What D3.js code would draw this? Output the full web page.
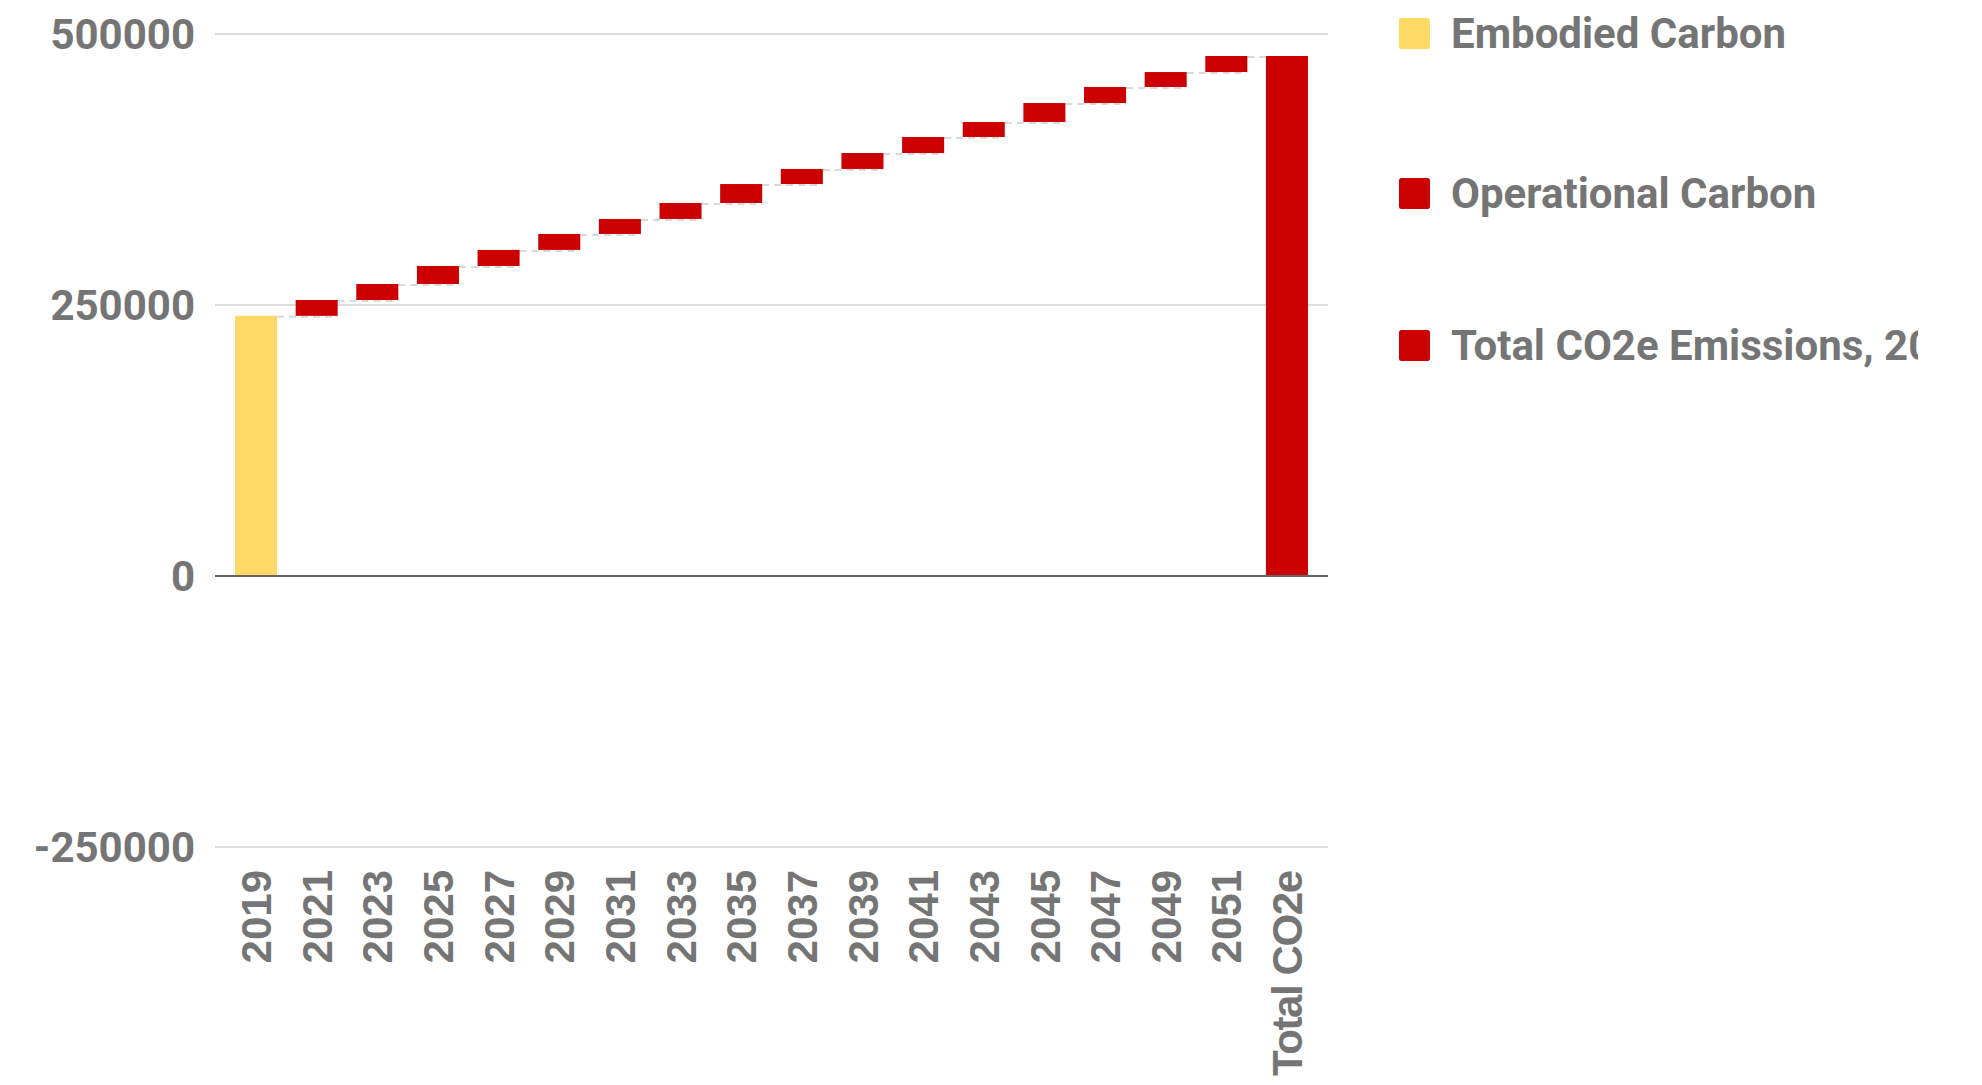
<!DOCTYPE html>
<html>
<head>
<meta charset="utf-8">
<script src="https://cdn.jsdelivr.net/npm/d3@7"></script>
<style>
  html, body { margin: 0; padding: 0; background: #ffffff; }
  svg { display: block; }
</style>
</head>
<body>
<svg id="chart" width="1982" height="1085"></svg>
<script>
// Waterfall of lifetime CO2e: embodied carbon in 2019, yearly operational increments, and the total.
const categories = ["2019", "2021", "2023", "2025", "2027", "2029", "2031", "2033", "2035",
  "2037", "2039", "2041", "2043", "2045", "2047", "2049", "2051", "Total CO2e"];
const embodiedCarbon = 240000;
const operationalCarbon = [14600, 14800, 16600, 14800, 14700, 13900, 14700, 17500,
  13900, 14700, 14800, 13800, 17500, 14800, 13800, 14800];
const yTicks = [-250000, 0, 250000, 500000];
const legendLabels = ["Embodied Carbon", "Operational Carbon", "Total CO2e Emissions, 2019-2051"];

const YELLOW = "#ffd966";
const RED = "#cc0000";
const TEXT = "#757575";

// Build waterfall segments (start/end of each bar)
const segments = [];
let running = embodiedCarbon;
segments.push({ cat: categories[0], y0: 0, y1: embodiedCarbon, color: YELLOW });
operationalCarbon.forEach((v, i) => {
  segments.push({ cat: categories[i + 1], y0: running, y1: running + v, color: RED });
  running += v;
});
segments.push({ cat: categories[categories.length - 1], y0: 0, y1: running, color: RED });

const svg = d3.select("#chart");
const plot = { left: 215, right: 1328, top: 34, bottom: 847 };

const x = d3.scaleBand()
  .domain(categories)
  .range([plot.left, plot.right])
  .paddingInner(0.307)
  .paddingOuter(0.33);

const y = d3.scaleLinear()
  .domain([yTicks[0], yTicks[yTicks.length - 1]])
  .range([plot.bottom, plot.top]);

// Gridlines
svg.append("g")
  .selectAll("line")
  .data(yTicks.filter(t => t !== 0))
  .join("line")
  .attr("x1", plot.left).attr("x2", plot.right)
  .attr("y1", d => y(d)).attr("y2", d => y(d))
  .attr("stroke", "#d0d0d0")
  .attr("stroke-width", 1.5);

// Y axis labels (plain hyphen for negatives)
const yAxis = d3.axisLeft(y).tickValues(yTicks).tickSize(0).tickPadding(20)
  .tickFormat(d => String(d));
const yG = svg.append("g").attr("transform", `translate(${plot.left},0)`).call(yAxis);
yG.select(".domain").remove();
yG.selectAll("text")
  .attr("fill", TEXT)
  .attr("font-family", "Roboto, sans-serif")
  .attr("font-weight", 700)
  .attr("font-size", 42)
  .attr("dy", "0.355em");

// Connector lines between consecutive bars
const connectors = segments.slice(0, -1).map((s, i) => ({
  x1: x(s.cat) + x.bandwidth(),
  x2: x(segments[i + 1].cat) + x.bandwidth(),
  v: s.y1
}));
svg.append("g")
  .selectAll("line")
  .data(connectors)
  .join("line")
  .attr("x1", d => d.x1).attr("x2", d => d.x2)
  .attr("y1", d => y(d.v) + 1).attr("y2", d => y(d.v) + 1)
  .attr("stroke", "#d9d9d9")
  .attr("stroke-width", 2)
  .attr("stroke-dasharray", "7,5");

// Bars
svg.append("g")
  .selectAll("rect")
  .data(segments)
  .join("rect")
  .attr("x", d => x(d.cat))
  .attr("width", x.bandwidth())
  .attr("y", d => y(Math.max(d.y0, d.y1)))
  .attr("height", d => Math.abs(y(d.y0) - y(d.y1)))
  .attr("fill", d => d.color);

// Zero baseline
svg.append("line")
  .attr("x1", plot.left).attr("x2", plot.right)
  .attr("y1", y(0)).attr("y2", y(0))
  .attr("stroke", "#666666")
  .attr("stroke-width", 2);

// X axis labels, rotated
const lastCat = categories[categories.length - 1];
svg.append("g")
  .selectAll("text")
  .data(categories)
  .join("text")
  .attr("transform", d => `translate(${x(d) + x.bandwidth() / 2},870) rotate(-90)`)
  .attr("text-anchor", "end")
  .attr("dy", "0.36em")
  .attr("fill", TEXT)
  .attr("font-family", "'Liberation Sans', Arial, sans-serif")
  .attr("font-weight", 700)
  .attr("font-size", 42)
  .attr("textLength", d => d === lastCat ? 206 : null)
  .attr("lengthAdjust", "spacing")
  .text(d => d);

// Legend (clipped at the right edge of the legend area)
svg.append("defs").append("clipPath").attr("id", "legend-clip")
  .append("rect").attr("x", 1380).attr("y", 0).attr("width", 538).attr("height", 500);

const legendColors = [YELLOW, RED, RED];
const legendY = [33.5, 193.5, 345.5];
const legend = svg.append("g").attr("clip-path", "url(#legend-clip)")
  .selectAll("g")
  .data(legendLabels)
  .join("g")
  .attr("transform", (d, i) => `translate(1399,${legendY[i]})`);
legend.append("rect")
  .attr("x", 0).attr("y", -15.5)
  .attr("width", 31).attr("height", 31)
  .attr("rx", 2.5)
  .attr("fill", (d, i) => legendColors[i]);
legend.append("text")
  .attr("x", 52)
  .attr("dy", "0.355em")
  .attr("fill", TEXT)
  .attr("font-family", "Roboto, sans-serif")
  .attr("font-weight", 700)
  .attr("font-size", 42)
  .text(d => d);
</script>
</body>
</html>
